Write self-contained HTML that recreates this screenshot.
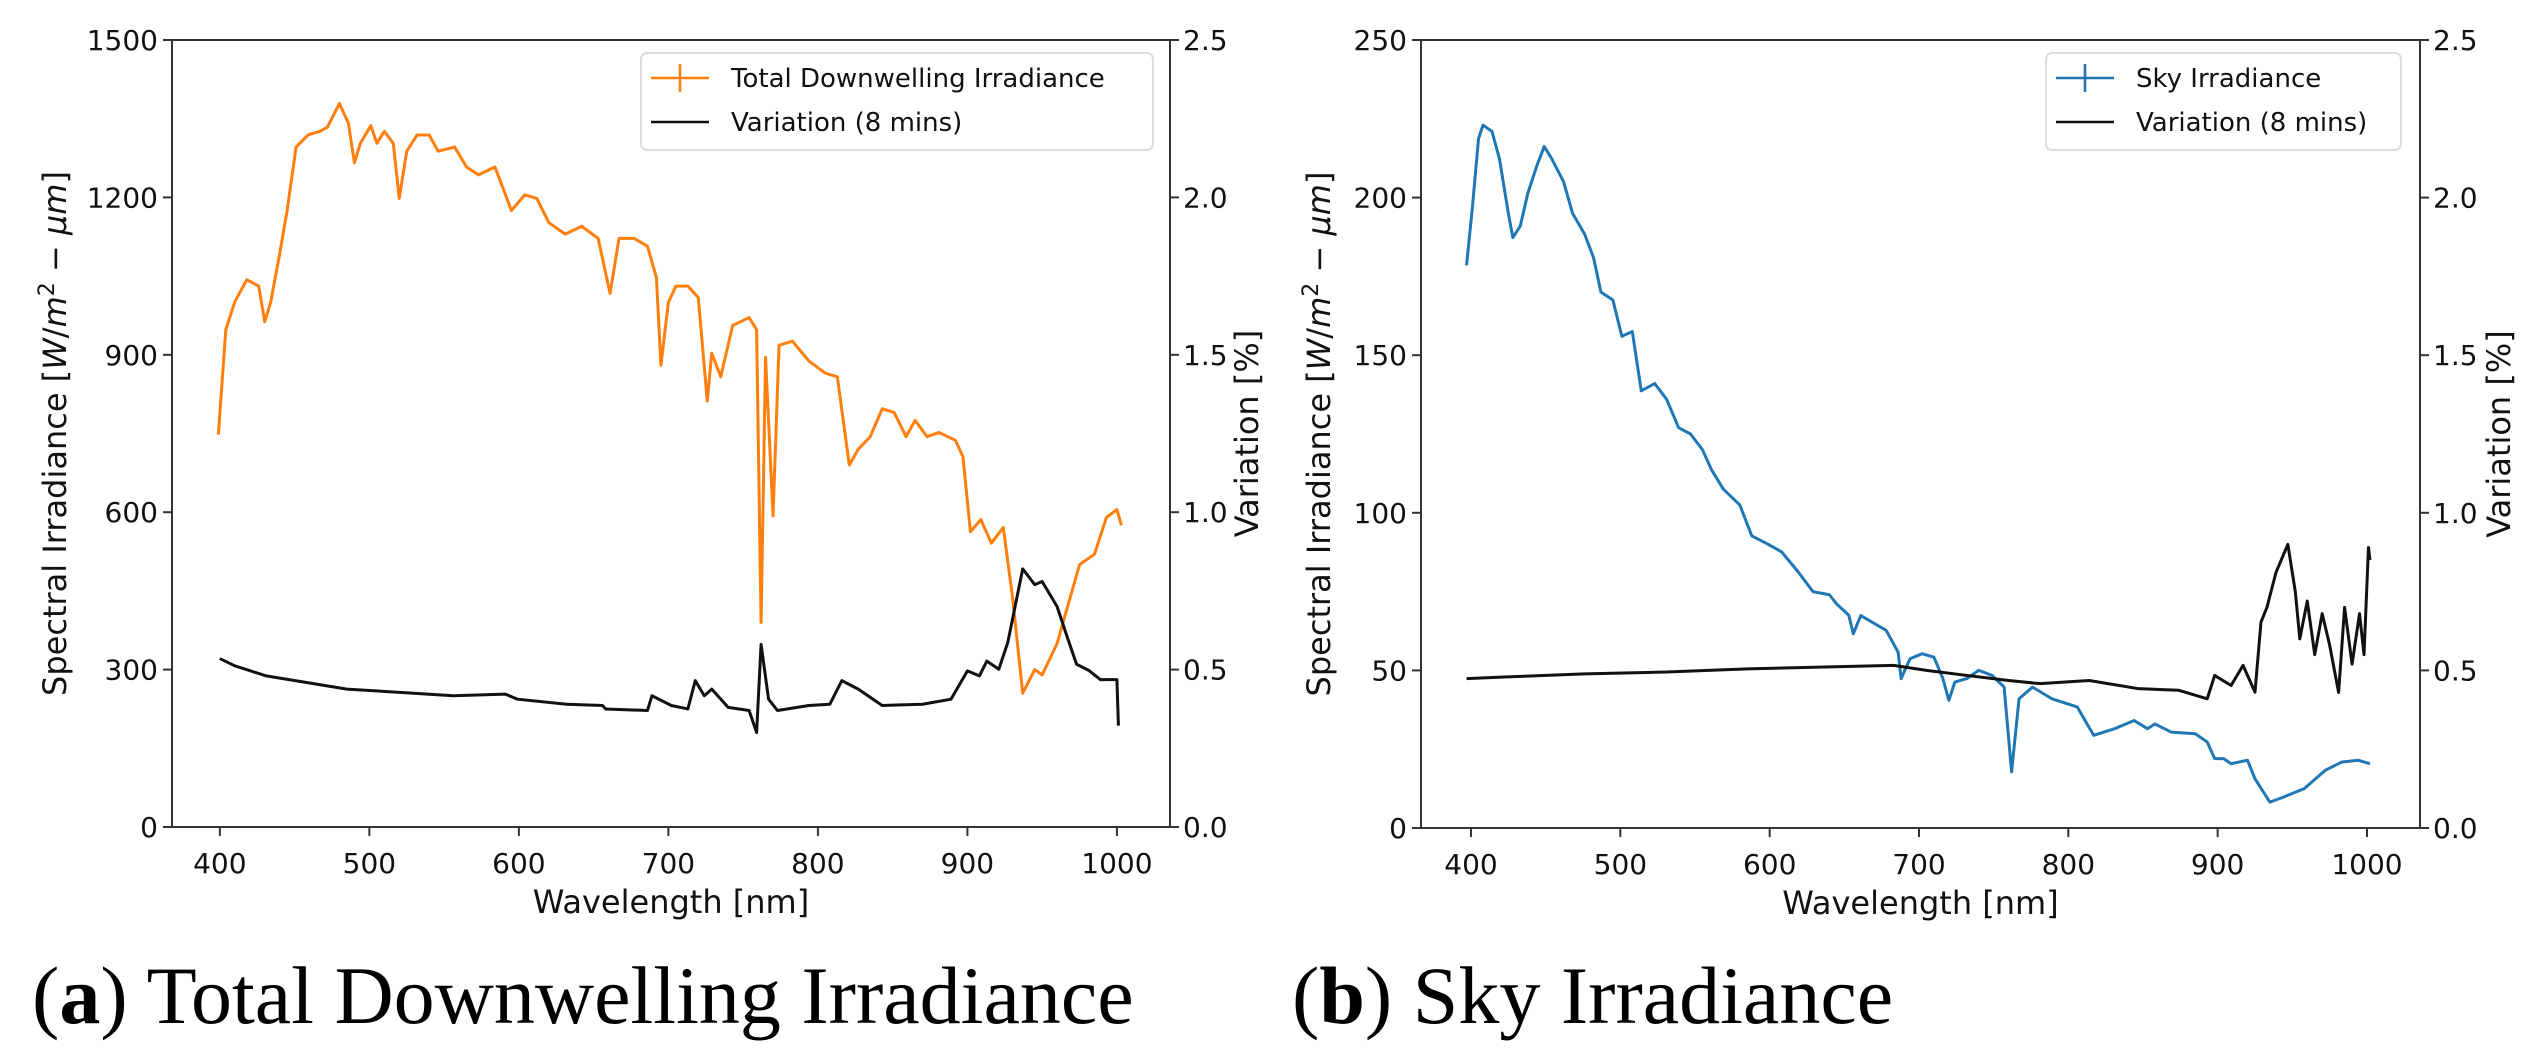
<!DOCTYPE html>
<html><head><meta charset="utf-8">
<style>
html,body{margin:0;padding:0;background:#fff;width:2534px;height:1055px;overflow:hidden}
svg{display:block}
text{font-family:"DejaVu Sans","Liberation Sans",sans-serif;fill:#111}
.cap{font-family:"Liberation Serif",serif;font-size:82px;fill:#000}
</style></head>
<body>
<svg id="fig" width="2534" height="1055" viewBox="0 0 2534 1055">
<text class="cap" x="32" y="1023">(<tspan font-weight="bold">a</tspan>) Total Downwelling Irradiance</text>
<text class="cap" x="1292" y="1023">(<tspan font-weight="bold">b</tspan>) Sky Irradiance</text>
</svg>
<script>
// ---- Panel A data ----
const aOrangeWl=[399,404,410,418,426,430,434,440,445,451,459,467,472,480,486,490,494,501,505,510,516,520,525,532,540,546,557,565,573,584,590,595,604,612,620,631,642,653,661,667,677,686,692,695,700,705,713,720,726,729,735,743,754,759,762,765,770,774,783,794,805,813,821,827,835,843,851,859,865,873,881,892,897,902,909,916,924,930,937,945,950,960,970,975,985,993,1000,1003];
const aOrangeVal=[748,948,1001,1043,1031,963,1000,1092,1175,1296,1319,1326,1334,1379,1341,1266,1303,1337,1303,1326,1303,1198,1288,1319,1319,1288,1296,1258,1243,1258,1213,1175,1205,1198,1152,1130,1145,1122,1017,1122,1122,1107,1047,880,1000,1031,1031,1009,812,903,858,956,971,948,390,895,593,918,926,888,865,858,690,720,744,797,790,744,775,744,752,737,706,563,586,541,571,442,255,300,290,350,450,500,520,590,605,575];
const aBlackWl=[400,410,431,458,485,523,556,591,599,632,656,658,686,689,702,713,718,724,729,740,754,759,762,767,773,794,808,816,827,843,870,889,900,908,913,921,927,937,945,950,960,967,973,981,989,1000,1001];
const aBlackVal=[0.535,0.512,0.48,0.459,0.438,0.427,0.417,0.422,0.406,0.39,0.386,0.375,0.37,0.417,0.386,0.375,0.465,0.417,0.438,0.38,0.37,0.30,0.58,0.406,0.37,0.386,0.39,0.465,0.438,0.386,0.39,0.406,0.496,0.48,0.527,0.501,0.586,0.82,0.77,0.78,0.70,0.60,0.517,0.498,0.468,0.468,0.322];
const aLeftTicks=[0,300,600,900,1200,1500];
// ---- Panel B data ----
const bBlueWl=[397,401,405,408,414,419,425,428,433,438,444,449,454,462,468,476,482,487,495,501,508,514,523,531,539,547,555,561,569,580,588,599,608,619,629,640,645,653,656,661,678,686,688,694,702,710,716,720,724,732,740,749,757,762,767,776,789,806,817,831,844,853,858,869,885,893,898,904,909,920,925,935,944,958,972,983,994,1002];
const bBlueVal=[178.5,197.3,218.6,223,221,212.4,195,187.3,191,201.3,210,216.2,212.4,205,195,188.5,181,170,167.5,156,157.5,138.7,141,136,127,125,120,113.7,107.5,102.5,92.7,90,87.6,81.3,75,74,71,67.5,61.6,67.4,62.7,55.8,47.4,53.7,55.3,54.2,47.4,40.5,46.3,47.4,50,48.4,44.7,17.8,41,44.7,41,38.4,29.4,31.5,34.1,31.5,33,30.4,29.9,27.3,22,22,20.4,21.5,15.6,8.2,9.8,12.5,18.3,20.9,21.5,20.4];
const bBlackWl=[397,422,476,531,585,640,683,705,732,760,781,814,847,874,893,898,909,917,925,929,933,939,947,952,955,960,965,970,975,981,985,990,995,998,1001,1002];
const bBlackVal=[0.474,0.479,0.489,0.495,0.505,0.511,0.516,0.5,0.484,0.468,0.458,0.468,0.442,0.437,0.41,0.484,0.452,0.516,0.431,0.653,0.70,0.81,0.90,0.75,0.60,0.72,0.55,0.68,0.58,0.43,0.70,0.52,0.68,0.55,0.89,0.85];
const bLeftTicks=[0,50,100,150,200,250];
const xTicks=[400,500,600,700,800,900,1000];
const rightTicks=[0.0,0.5,1.0,1.5,2.0,2.5];
const rightTickLabels=["0.0","0.5","1.0","1.5","2.0","2.5"];

const NS="http://www.w3.org/2000/svg";
const svg=document.getElementById('fig');
function mk(tag,attrs,parent){const e=document.createElementNS(NS,tag);for(const k in attrs)e.setAttribute(k,attrs[k]);(parent||svg).appendChild(e);return e;}

function panel(o){
  const g=mk('g',{});
  
  
  const X=v=>o.L+(v-o.xmin)/(o.xmax-o.xmin)*(o.R-o.L);
  const Y=v=>o.B-(v/o.ymax)*(o.B-o.T);
  const Y2=v=>o.B-(v/2.5)*(o.B-o.T);
  const p1=mk('polyline',{points:o.s1x.map((w,i)=>X(w)+','+Y(o.s1y[i])).join(' '),fill:'none',stroke:o.color,'stroke-width':3,'stroke-linejoin':'round'},g);
  
  
  const p2=mk('polyline',{points:o.s2x.map((w,i)=>X(w)+','+Y2(o.s2y[i])).join(' '),fill:'none',stroke:'#111','stroke-width':3,'stroke-linejoin':'round'},g);
  
  
  const fr=mk('rect',{x:o.L,y:o.T,width:o.R-o.L,height:o.B-o.T,fill:'none',stroke:'#333','stroke-width':2},g);
  
  
  xTicks.forEach(t=>{
    mk('line',{x1:X(t),x2:X(t),y1:o.B,y2:o.B+9,stroke:'#333','stroke-width':2},g);
    const tx=mk('text',{x:X(t),y:o.B+46,'text-anchor':'middle','font-size':28},g);
    tx.textContent=t;
    
    
  });
  o.lticks.forEach(t=>{
    mk('line',{x1:o.L-9,x2:o.L,y1:Y(t),y2:Y(t),stroke:'#333','stroke-width':2},g);
    const tx=mk('text',{x:o.L-14,y:Y(t)+10,'text-anchor':'end','font-size':28},g);
    tx.textContent=t;
    
    
  });
  rightTicks.forEach((t,i)=>{
    mk('line',{x1:o.R,x2:o.R+9,y1:Y2(t),y2:Y2(t),stroke:'#333','stroke-width':2},g);
    const tx=mk('text',{x:o.R+13,y:Y2(t)+10,'text-anchor':'start','font-size':28},g);
    tx.textContent=rightTickLabels[i];
    
    
  });
  const xl=mk('text',{x:(o.L+o.R)/2,y:o.B+86,'text-anchor':'middle','font-size':32},g);
  xl.textContent='Wavelength [nm]';
  
  
  const yl=mk('text',{x:0,y:0,'text-anchor':'middle','font-size':32,transform:`translate(${o.ylx},${(o.T+o.B)/2}) rotate(-90)`},g);
  yl.innerHTML='Spectral Irradiance [<tspan font-style="italic">W</tspan>/<tspan font-style="italic">m</tspan><tspan font-size="22" dy="-12">2</tspan><tspan dy="12"> − </tspan><tspan font-style="italic">μm</tspan>]';
  
  
  const yr=mk('text',{x:0,y:0,'text-anchor':'middle','font-size':32,transform:`translate(${o.yrx},${(o.T+o.B)/2}) rotate(-90)`},g);
  yr.textContent='Variation [%]';
  
  
  const lg=mk('g',{},g);
  
  
  mk('rect',{x:o.lgx,y:53,width:o.lgw,height:97,rx:6,fill:'#fff','fill-opacity':0.85,stroke:'#ddd','stroke-width':2},lg);
  const lx=o.lgx+10;
  mk('line',{x1:lx,x2:lx+58,y1:78,y2:78,stroke:o.color,'stroke-width':2.6},lg);
  mk('line',{x1:lx+29,x2:lx+29,y1:64,y2:92,stroke:o.color,'stroke-width':2.6},lg);
  const t1=mk('text',{x:lx+80,y:87,'font-size':26},lg);
  t1.textContent=o.s1label;
  
  
  mk('line',{x1:lx,x2:lx+58,y1:122,y2:122,stroke:'#111','stroke-width':2.6},lg);
  const t2=mk('text',{x:lx+80,y:131,'font-size':26},lg);
  t2.textContent='Variation (8 mins)';
  
  
}
panel({name:'panel-a',L:172,R:1170,T:40,B:827,xmin:368,xmax:1035.5,ymax:1500,lticks:aLeftTicks,
  s1x:aOrangeWl,s1y:aOrangeVal,color:'#ff7f0e',s1name:'total-irradiance-line',s1label:'Total Downwelling Irradiance',
  s2x:aBlackWl,s2y:aBlackVal,ylx:66,yrx:1258,lgx:641,lgw:512});
panel({name:'panel-b',L:1421,R:2420,T:40,B:828,xmin:366.5,xmax:1035.5,ymax:250,lticks:bLeftTicks,
  s1x:bBlueWl,s1y:bBlueVal,color:'#1f77b4',s1name:'sky-irradiance-line',s1label:'Sky Irradiance',
  s2x:bBlackWl,s2y:bBlackVal,ylx:1330,yrx:2510,lgx:2046,lgw:355});
</script>
</body></html>
